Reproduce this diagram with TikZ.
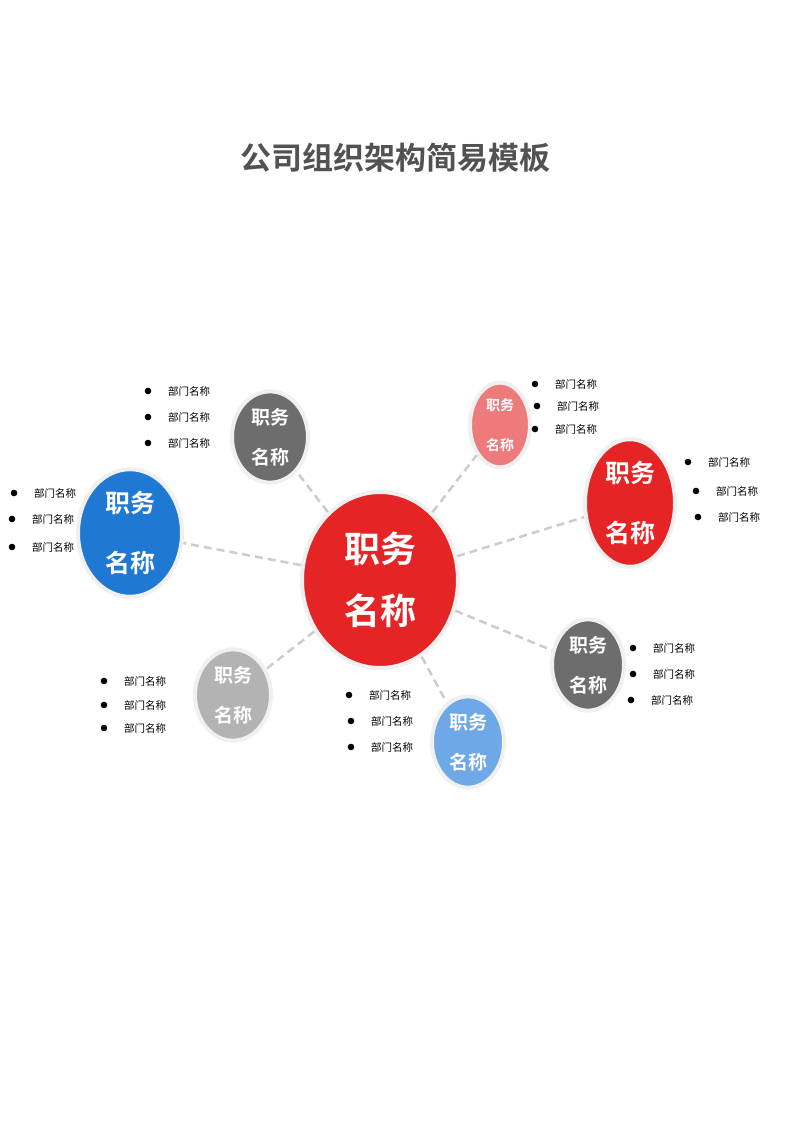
\documentclass[tikz,border=0pt]{standalone}
\usepackage{fontspec}
\setmainfont{Noto Sans CJK SC}
\newfontfamily\cjkb{Noto Sans CJK SC Bold}
\begin{document}
\begin{tikzpicture}[x=1pt,y=-1pt,
  bub/.style={ellipse,draw=black!6,line width=4pt,text=white,align=center,font=\cjkb},
  link/.style={draw=black!20,line width=2.5pt,dash pattern=on 8pt off 5pt},
  itm/.style={anchor=west,font=\fontsize{10.5}{12}\selectfont,inner sep=0pt}]
\usetikzlibrary{shapes.geometric}
\useasboundingbox (0,0) rectangle (800,1131);
\node[font=\cjkb\fontsize{31}{36}\selectfont,text=black!68] (title) at (395,158) {公司组织架构简易模板};
\node[bub,fill=red!85!black!95,minimum width=156,minimum height=176,font=\cjkb\fontsize{36}{62}\selectfont,fill={rgb,255:red,229;green,36;blue,37}] (c) at (380,580) {职务\\名称};
\node[bub,fill={rgb,255:red,109;green,109;blue,109},minimum width=76,minimum height=84,font=\cjkb\fontsize{19}{40}\selectfont] (g1) at (270,437) {职务\\名称};
\node[bub,fill={rgb,255:red,238;green,123;blue,123},minimum width=60,minimum height=66,font=\cjkb\fontsize{14}{40}\selectfont] (p) at (500,425) {职务\\名称};
\node[bub,fill={rgb,255:red,229;green,36;blue,37},minimum width=90,minimum height=114,font=\cjkb\fontsize{25}{60}\selectfont] (r) at (630,503) {职务\\名称};
\node[bub,fill={rgb,255:red,31;green,120;blue,209},minimum width=104,minimum height=116,font=\cjkb\fontsize{25}{60}\selectfont] (b) at (130,533) {职务\\名称};
\node[bub,fill={rgb,255:red,179;green,179;blue,179},minimum width=76,minimum height=84,font=\cjkb\fontsize{19}{40}\selectfont] (g2) at (233,695) {职务\\名称};
\node[bub,fill={rgb,255:red,111;green,168;blue,230},minimum width=72,minimum height=84,font=\cjkb\fontsize{19}{40}\selectfont] (lb) at (468,742) {职务\\名称};
\node[bub,fill={rgb,255:red,109;green,109;blue,109},minimum width=72,minimum height=84,font=\cjkb\fontsize{19}{40}\selectfont] (g3) at (588,665) {职务\\名称};
\draw[link] (c) -- (g1);
\draw[link] (c) -- (p);
\draw[link] (c) -- (r);
\draw[link] (c) -- (b);
\draw[link] (c) -- (g2);
\draw[link] (c) -- (lb);
\draw[link] (c) -- (g3);
\foreach \x/\y in {148/391,148/417,148/443, 535/384,537/406,535/429, 688/462,696/491,698/517,
  14/493,12/519,12/547, 104/681,104/705,104/728, 349/695,351/721,351/747, 633/648,633/674,631/700}{
  \fill (\x,\y) circle (3.3);
  \node[itm] at (\x+20,\y) {部门名称};
}
\end{tikzpicture}
\end{document}
